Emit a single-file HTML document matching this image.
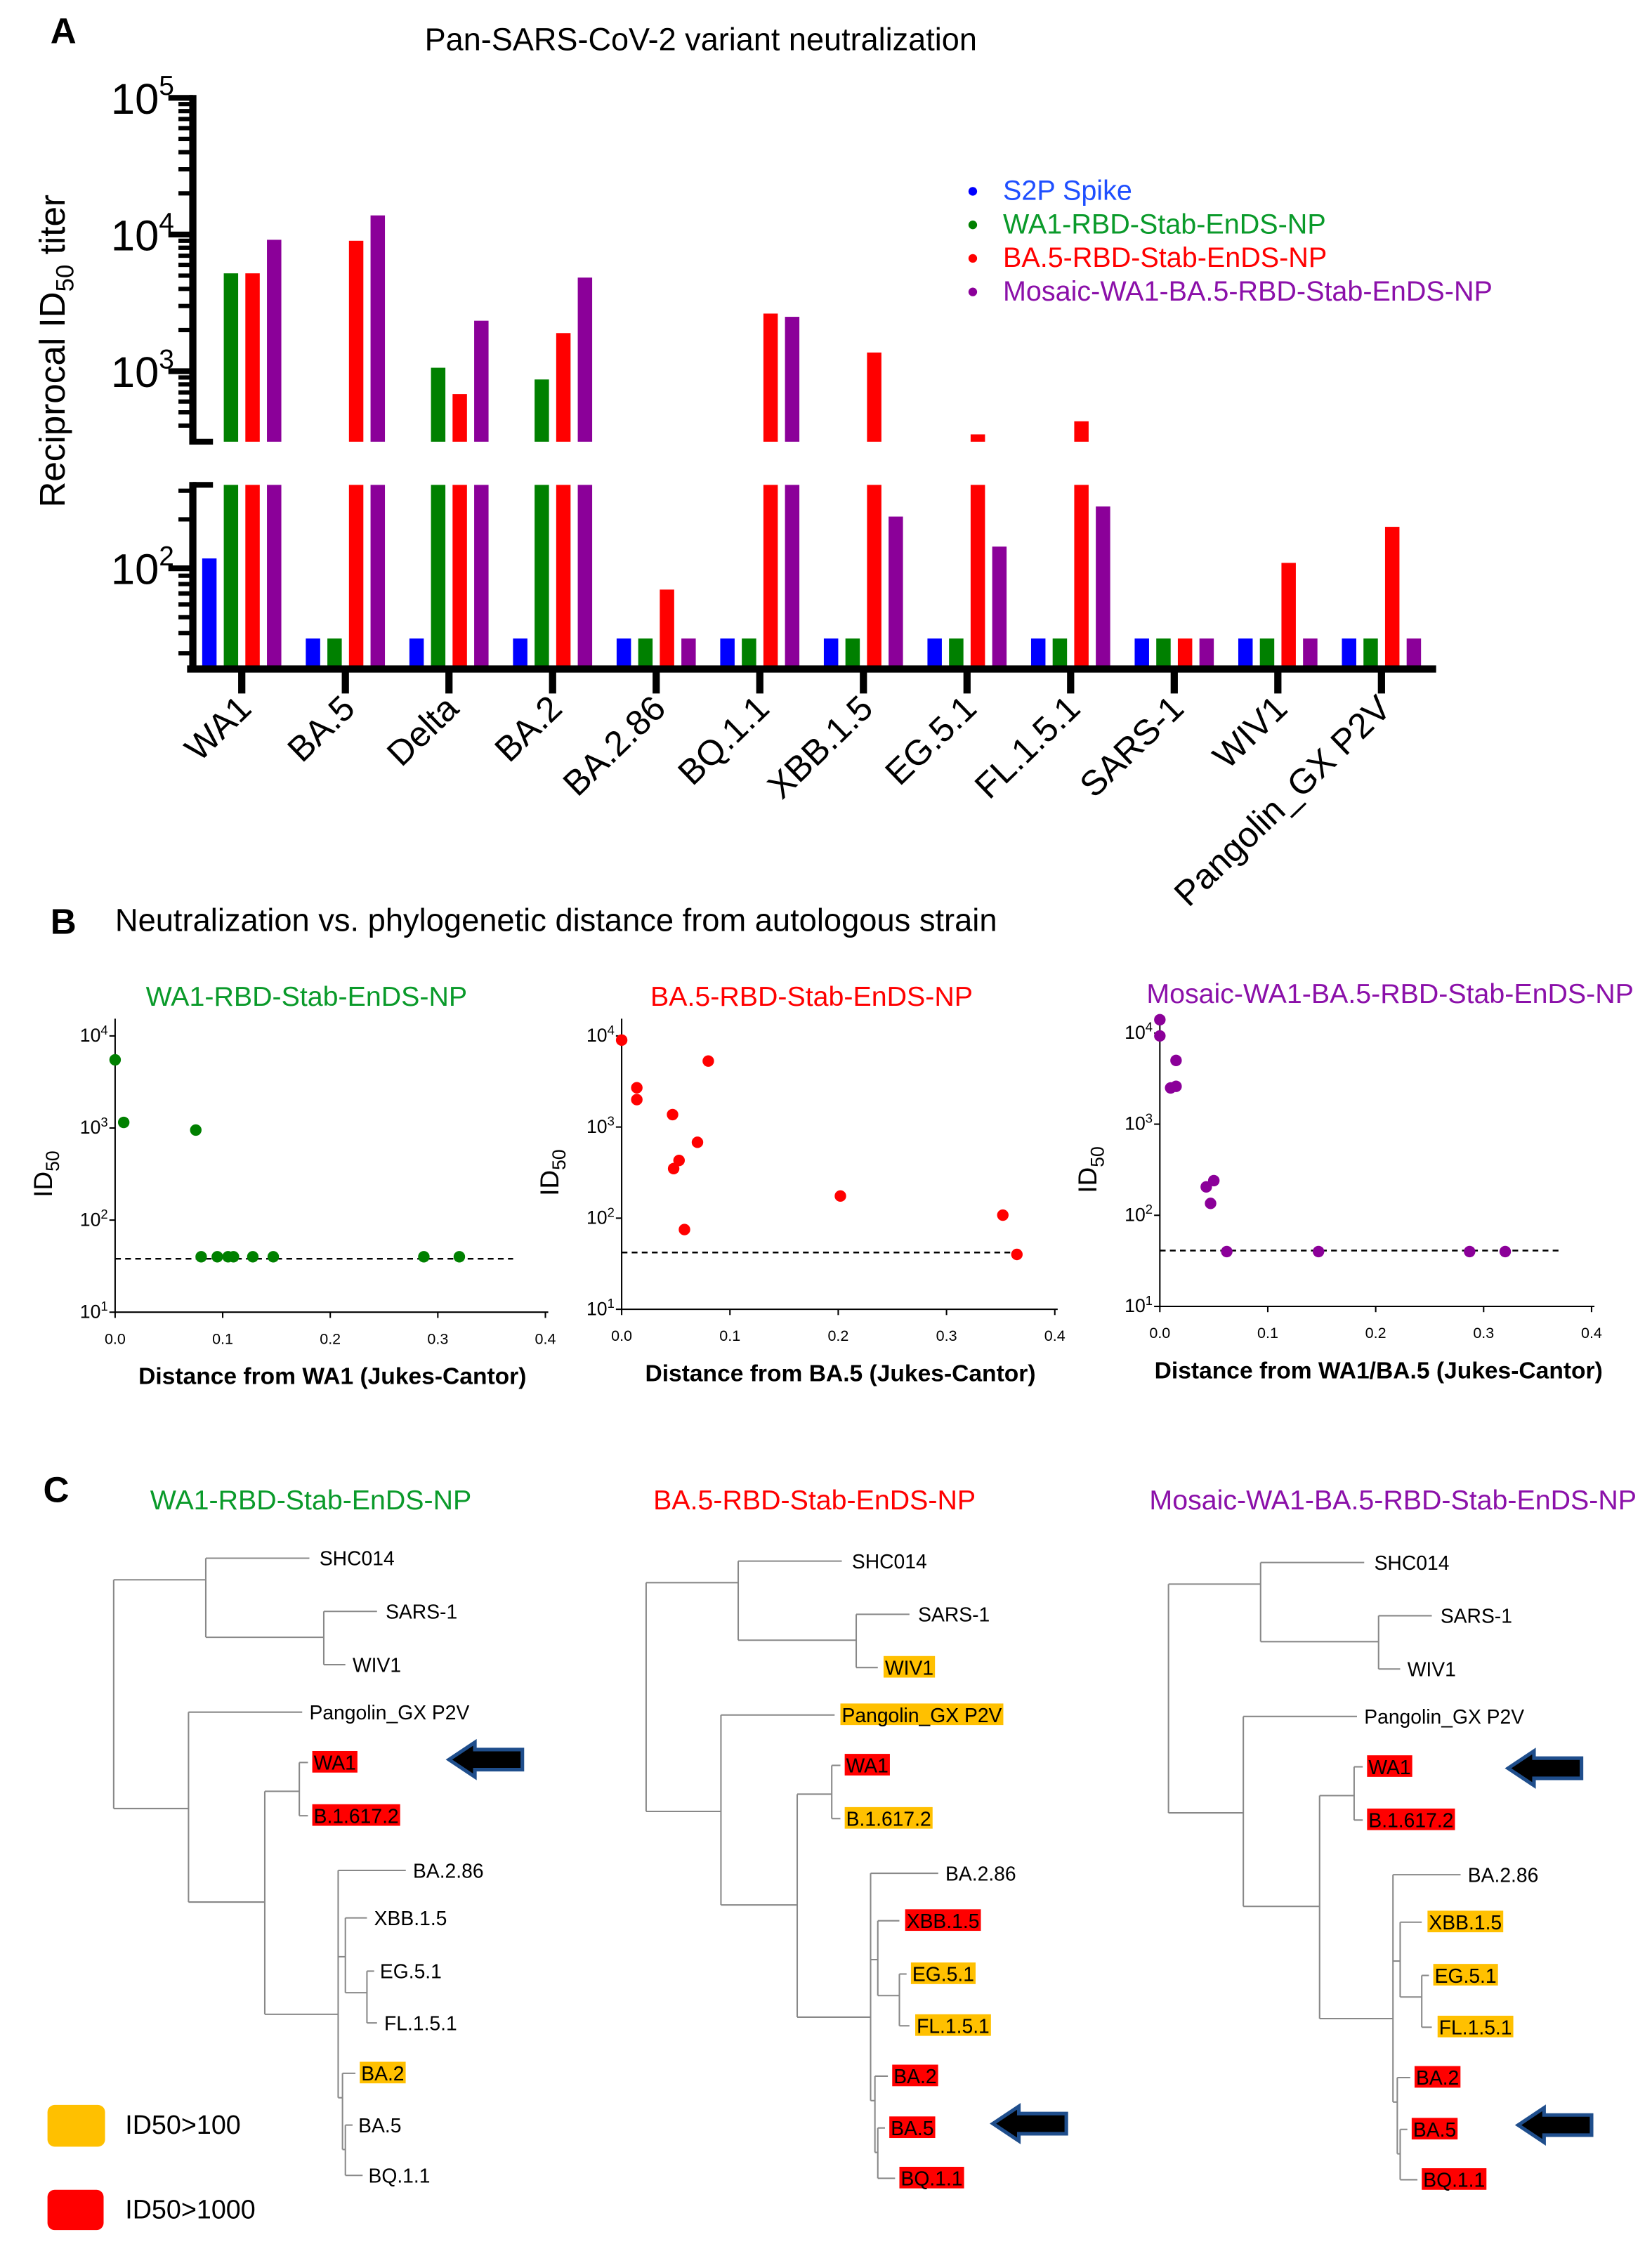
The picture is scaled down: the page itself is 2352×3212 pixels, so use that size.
<!DOCTYPE html>
<html><head><meta charset="utf-8"><style>
html,body{margin:0;padding:0;background:#fff}
svg{display:block;font-family:"Liberation Sans",Arial,sans-serif}
</style></head><body>
<svg id="fig" width="2352" height="3212" viewBox="0 0 1148 1568" preserveAspectRatio="none" xmlns="http://www.w3.org/2000/svg">
<rect width="1148" height="1568" fill="#fff"/>
<g id="pa"></g>
<g id="pb"></g>
<g id="pc"></g>
</svg>
<script>
// ---------- Panel A data ----------
const categories = ["WA1","BA.5","Delta","BA.2","BA.2.86","BQ.1.1","XBB.1.5","EG.5.1","FL.1.5.1","SARS-1","WIV1","Pangolin_GX P2V"];
const seriesNames = ["S2P Spike","WA1-RBD-Stab-EnDS-NP","BA.5-RBD-Stab-EnDS-NP","Mosaic-WA1-BA.5-RBD-Stab-EnDS-NP"];
const s2pValues = [115,37,37,37,37,37,37,37,37,37,37,37];
const wa1Values = [5200,37,1060,870,37,37,37,37,37,37,37,37];
const ba5Values = [5200,9000,680,1900,74,2640,1370,345,430,37,108,180];
const mosaicValues = [9150,13800,2340,4840,37,2500,208,136,240,37,37,37];
const colors = ["#0000ff","#008000","#ff0000","#8b0099"];
const legendColors = ["#1f4fff","#0a9a2a","#ff0000","#8b10a9"];

const NS="http://www.w3.org/2000/svg";
function mk(parent,tag,attrs,text){const e=document.createElementNS(NS,tag);for(const k in attrs)e.setAttribute(k,attrs[k]);if(text!==undefined)e.textContent=text;parent.appendChild(e);return e;}

const pa=document.getElementById('pa');
let t;
t=mk(pa,'text',{x:35,y:30,'font-size':25,'font-weight':'bold'},'A');


t=mk(pa,'text',{x:487,y:35,'font-size':22,'text-anchor':'middle'},'Pan-SARS-CoV-2 variant neutralization');



const upTop=68, upBot=307, upDec=95;
const loTop=337, loBot=463, lo100=395, loDec=113;
function yUp(v){return upTop+(5-Math.log10(v))*upDec;}
function yLo(v){return lo100-(Math.log10(v)-2)*loDec;}
const axX=134, x0=168, step=72;
function xc(i){return x0+i*step;}
const offs=[-22.5,-7.5,7.5,22.5], bw=10;
const all=[s2pValues,wa1Values,ba5Values,mosaicValues];
const upMinV=Math.pow(10,5-(upBot-upTop)/upDec);
for(let s=0;s<4;s++){
  for(let i=0;i<categories.length;i++){
    const v=all[s][i], x=xc(i)+offs[s]-bw/2;
    const yl=Math.max(loTop,yLo(v));
    let r=mk(pa,'rect',{x:x,y:yl,width:bw,height:loBot-yl,fill:colors[s]});
    
    
    if(v>upMinV){
      const yu=yUp(v);
      r=mk(pa,'rect',{x:x,y:yu,width:bw,height:upBot-yu,fill:colors[s]});
      
      
    }
  }
}
let ax=mk(pa,'g',{stroke:'#000',fill:'none'});


mk(ax,'line',{x1:axX,y1:upTop-2,x2:axX,y2:upBot+2,'stroke-width':5});
mk(ax,'line',{x1:axX,y1:loTop-2,x2:axX,y2:loBot+2,'stroke-width':5});
mk(ax,'line',{x1:axX,y1:upBot,x2:148,y2:upBot,'stroke-width':4});
mk(ax,'line',{x1:axX,y1:loTop,x2:148,y2:loTop,'stroke-width':4});
for(const e of [5,4,3]){mk(ax,'line',{x1:117,y1:yUp(Math.pow(10,e)),x2:axX,y2:yUp(Math.pow(10,e)),'stroke-width':4});}
for(const base of [1000,10000]){for(let m=2;m<=9;m++){const y=yUp(base*m);mk(ax,'line',{x1:124,y1:y,x2:axX,y2:y,'stroke-width':3});}}
for(let m=4;m<=9;m++){const y=yUp(100*m);if(y<upBot)mk(ax,'line',{x1:124,y1:y,x2:axX,y2:y,'stroke-width':3});}
mk(ax,'line',{x1:117,y1:yLo(100),x2:axX,y2:yLo(100),'stroke-width':4});
for(const v of [200,300,90,80,70,60,50,40,30]){const y=yLo(v);if(y>=loTop-1&&y<=loBot)mk(ax,'line',{x1:124,y1:y,x2:axX,y2:y,'stroke-width':3});}
const yExps=[5,4,3];
for(const e of yExps){t=mk(pa,'text',{x:121,y:yUp(Math.pow(10,e))+11,'font-size':30,'text-anchor':'end'});
  
  
  mk(t,'tspan',{},'10');mk(t,'tspan',{dy:-13,'font-size':19},String(e));}
t=mk(pa,'text',{x:121,y:yLo(100)+11,'font-size':30,'text-anchor':'end'});


mk(t,'tspan',{},'10');mk(t,'tspan',{dy:-13,'font-size':19},'2');
t=mk(pa,'text',{transform:'translate(45,244) rotate(-90)','font-size':25,'text-anchor':'middle'});


mk(t,'tspan',{},'Reciprocal ID');mk(t,'tspan',{dy:6,'font-size':17},'50');mk(t,'tspan',{dy:-6},' titer');
let xa=mk(pa,'g',{stroke:'#000'});


mk(xa,'line',{x1:130,y1:loBot+2,x2:998,y2:loBot+2,'stroke-width':5});
for(let i=0;i<categories.length;i++){mk(xa,'line',{x1:xc(i),y1:loBot,x2:xc(i),y2:482,'stroke-width':5});
  t=mk(pa,'text',{transform:`translate(${xc(i)+8},${494}) rotate(-44)`,'font-size':24.5,'text-anchor':'end'},categories[i]);
  
  }
for(let s=0;s<4;s++){const y=133+s*23.3;
  const g=mk(pa,'g',{});
  
  
  mk(g,'circle',{cx:676,cy:y,r:3,fill:colors[s]});
  mk(g,'text',{x:697,y:y+6,'font-size':19.3,fill:legendColors[s]},seriesNames[s]);}

// ---------- Panel B data ----------
const distWA1=[0,0.008,0.075,0.08,0.095,0.105,0.11,0.128,0.147,0.287,0.32];
const id50WA1=[5500,1150,950,40,40,40,40,40,40,40,40];
const distBA5=[0,0.014,0.014,0.047,0.08,0.053,0.048,0.07,0.058,0.202,0.352,0.365];
const id50BA5=[9000,2700,2000,1370,5300,430,350,680,75,175,108,40];
const distMos=[0,0,0.015,0.01,0.015,0.043,0.05,0.047,0.062,0.147,0.287,0.32];
const id50Mos=[14000,9300,5000,2500,2600,205,240,135,40,40,40,40];
const xTicksB=[0,0.1,0.2,0.3,0.4];
const xTickLabelsB=["0.0","0.1","0.2","0.3","0.4"];
const yExpsB=[4,3,2,1];
const limits=[38,42,41];

const pb=document.getElementById('pb');
t=mk(pb,'text',{x:35,y:649,'font-size':25,'font-weight':'bold'},'B');


t=mk(pb,'text',{x:80,y:647,'font-size':22.1},'Neutralization vs. phylogenetic distance from autologous strain');


const subs=[
 {x0:80,x4:379,y4:720,y1:912,title:'WA1-RBD-Stab-EnDS-NP',tc:213,ty:699,col:'#008000',tcol:'#0a9a2a',xl:'Distance from WA1 (Jukes-Cantor)',xlc:231,xly:962,d:distWA1,v:id50WA1},
 {x0:432,x4:733,y4:720,y1:910,title:'BA.5-RBD-Stab-EnDS-NP',tc:564,ty:699,col:'#ff0000',tcol:'#ff0000',xl:'Distance from BA.5 (Jukes-Cantor)',xlc:584,xly:960,d:distBA5,v:id50BA5},
 {x0:806,x4:1106,y4:718,y1:908,title:'Mosaic-WA1-BA.5-RBD-Stab-EnDS-NP',tc:966,ty:697,col:'#8b0099',tcol:'#8b10a9',xl:'Distance from WA1/BA.5 (Jukes-Cantor)',xlc:958,xly:958,d:distMos,v:id50Mos}];
subs.forEach((p,k)=>{
  const g=mk(pb,'g',{});
  
  
  const X=d=>p.x0+d/0.4*(p.x4-p.x0);
  const dec=(p.y1-p.y4)/3;
  const Y=v=>p.y4+(4-Math.log10(v))*dec;
  t=mk(g,'text',{x:p.tc,y:p.ty,'font-size':19.2,'text-anchor':'middle',fill:p.tcol},p.title);
  
  
  mk(g,'line',{x1:p.x0,y1:p.y4-12,x2:p.x0,y2:p.y1,stroke:'#000','stroke-width':1});
  mk(g,'line',{x1:p.x0,y1:p.y1,x2:p.x4+2,y2:p.y1,stroke:'#000','stroke-width':1});
  yExpsB.forEach(e=>{const y=Y(Math.pow(10,e));
    mk(g,'line',{x1:p.x0-4,y1:y,x2:p.x0,y2:y,stroke:'#000'});
    t=mk(g,'text',{x:p.x0-5,y:y+4,'font-size':13,'text-anchor':'end'});
    
    
    mk(t,'tspan',{},'10');mk(t,'tspan',{dy:-5,'font-size':9},String(e));});
  xTicksB.forEach((d,i)=>{const x=X(d);
    mk(g,'line',{x1:x,y1:p.y1,x2:x,y2:p.y1+4,stroke:'#000'});
    t=mk(g,'text',{x:x,y:p.y1+22,'font-size':10.5,'text-anchor':'middle'},xTickLabelsB[i]);
    
    });
  t=mk(g,'text',{x:p.xlc,y:p.xly,'font-size':16.4,'font-weight':'bold','text-anchor':'middle'},p.xl);
  
  
  t=mk(g,'text',{transform:`translate(${p.x0-44},${(p.y4+p.y1)/2}) rotate(-90)`,'font-size':18,'text-anchor':'middle'});
  
  
  mk(t,'tspan',{},'ID');mk(t,'tspan',{dy:5,'font-size':13},'50');
  const ln=mk(g,'line',{x1:X(0),y1:Y(limits[k]),x2:X(0.37),y2:Y(limits[k]),stroke:'#000','stroke-dasharray':'4,3','stroke-width':1.2});
  
  
  p.d.forEach((d,i)=>{const c=mk(g,'circle',{cx:X(d),cy:Y(p.v[i]),r:4,fill:p.col});
    
    });
});

// ---------- Panel C ----------
const pc=document.getElementById('pc');
t=mk(pc,'text',{x:30,y:1044,'font-size':25,'font-weight':'bold'},'C');


const segs=[
 [0,1098,0,1257],[0,1098,64,1098],[64,1083,64,1138],[64,1083,136,1083],[64,1138,146,1138],
 [146,1120,146,1157],[146,1120,183,1120],[146,1157,161,1157],
 [0,1257,52,1257],[52,1190,52,1322],[52,1190,131,1190],[52,1322,105,1322],
 [105,1245,105,1400],[105,1245,129,1245],[129,1225,129,1262],[129,1225,135,1225],[129,1262,135,1262],
 [105,1400,156,1400],[156,1300,156,1458],[156,1300,203,1300],[156,1360,161,1360],
 [161,1333,161,1385],[161,1333,176,1333],[161,1385,176,1385],[176,1370,176,1406],[176,1370,181,1370],[176,1406,183,1406],
 [156,1458,159,1458],[159,1441,159,1494],[159,1441,168,1441],[159,1494,161,1494],[161,1477,161,1512],[161,1477,166,1477],[161,1512,173,1512]];
const leaves=[["SHC014",143,1083],["SARS-1",189,1120],["WIV1",166,1157],["Pangolin_GX P2V",136,1190],["WA1",139,1225],["B.1.617.2",139,1262],
 ["BA.2.86",208,1300],["XBB.1.5",181,1333],["EG.5.1",185,1370],["FL.1.5.1",188,1406],["BA.2",172,1441],["BA.5",170,1477],["BQ.1.1",177,1512]];
const trees=[
 {rx:79,dy:0,title:'WA1-RBD-Stab-EnDS-NP',tc:216,col:'#0a9a2a',hl:{"WA1":'r',"B.1.617.2":'r',"BA.2":'o'},arrows:[[312,1223]]},
 {rx:449,dy:2,title:'BA.5-RBD-Stab-EnDS-NP',tc:566,col:'#ff0000',hl:{"WIV1":'o',"Pangolin_GX P2V":'o',"WA1":'r',"B.1.617.2":'o',"XBB.1.5":'r',"EG.5.1":'o',"FL.1.5.1":'o',"BA.2":'r',"BA.5":'r',"BQ.1.1":'r'},arrows:[[690,1476]]},
 {rx:812,dy:3,title:'Mosaic-WA1-BA.5-RBD-Stab-EnDS-NP',tc:968,col:'#8b10a9',hl:{"WA1":'r',"B.1.617.2":'r',"XBB.1.5":'o',"EG.5.1":'o',"FL.1.5.1":'o',"BA.2":'r',"BA.5":'r',"BQ.1.1":'r'},arrows:[[1048,1229],[1055,1477]]}];
trees.forEach((tr,k)=>{
  const g=mk(pc,'g',{});
  
  
  t=mk(g,'text',{x:tr.tc,y:1049,'font-size':19.2,'text-anchor':'middle',fill:tr.col},tr.title);
  
  
  segs.forEach(s=>mk(g,'line',{x1:tr.rx+s[0],y1:s[1]+tr.dy,x2:tr.rx+s[2],y2:s[3]+tr.dy,stroke:'#888','stroke-width':1}));
  leaves.forEach(l=>{
    const x=tr.rx+l[1], y=l[2]+tr.dy;
    const h=tr.hl[l[0]];
    let r=null;
    if(h){
      r=mk(g,'rect',{x:x-1,y:y-8,width:10,height:15,fill:h==='r'?'#ff0000':'#ffc000'});
      
      }
    t=mk(g,'text',{x:x,y:y+5,'font-size':13.8},l[0]);
    
    
    if(r){let w=l[0].length*7;try{w=t.getComputedTextLength();}catch(e){} r.setAttribute('width',w+2);}
  });
  tr.arrows.forEach(a=>{
    const p=mk(g,'path',{d:`M${a[0]},${a[1]} l18,-12 v5 h33 v14 h-33 v5 z`,fill:'#000',stroke:'#1f4e8c','stroke-width':2.5});
    
    
  });
});
let lg=mk(pc,'g',{});


mk(lg,'rect',{x:33,y:1463,width:40,height:29,rx:5,fill:'#ffc000'});
mk(lg,'text',{x:87,y:1483,'font-size':18.4},'ID50>100');
lg=mk(pc,'g',{});


mk(lg,'rect',{x:33,y:1522,width:39,height:28,rx:5,fill:'#ff0000'});
mk(lg,'text',{x:87,y:1542,'font-size':18.4},'ID50>1000');
</script>
</body></html>
